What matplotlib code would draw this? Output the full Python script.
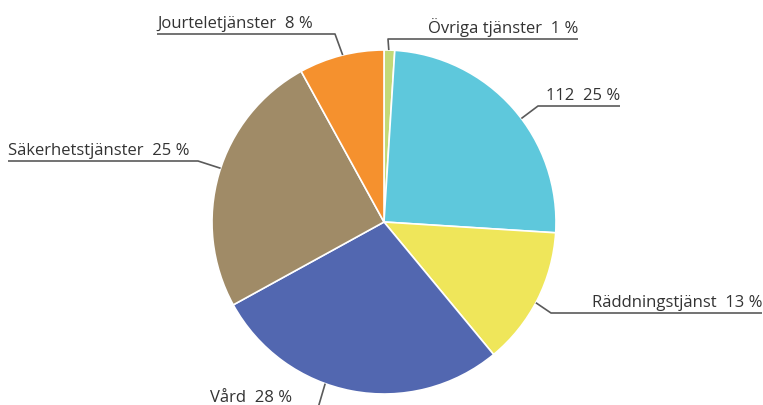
import numpy as np
import matplotlib
matplotlib.use("Agg")
import matplotlib.pyplot as plt

# Share of services (percent), clockwise from 12 o'clock
labels = ["Övriga tjänster", "112", "Räddningstjänst", "Vård",
          "Säkerhetstjänster", "Jourteletjänster"]
values = [1, 25, 13, 28, 25, 8]
colors = ["#c3d977", "#5ec8dc", "#efe65a", "#5267b0", "#a08b67", "#f5912e"]

W, H = 763, 405
cx, cy, r = 384, H - 222, 172

# label layout: (angle of leader on pie edge, elbow x, elbow y, line end x, text align)
layout = {
    "Övriga tjänster":   (88.4, 388, H - 39, 578, "right"),
    "112":               (37.0, 538, H - 106, 620, "right"),
    "Räddningstjänst":   (-28.0, 551, H - 313, 762, "right"),
    "Vård":              (-110.0, 318, H - 408, 210, "left"),
    "Säkerhetstjänster": (161.8, 198, H - 161, 8, "left"),
    "Jourteletjänster":  (103.9, 335, H - 34, 157, "left"),
}

plt.rcParams["font.family"] = ["Open Sans", "DejaVu Sans"]

fig = plt.figure(figsize=(W / 100, H / 100), dpi=100)
ax = fig.add_axes([0, 0, 1, 1])

ax.pie(values, colors=colors, startangle=90, counterclock=False,
       center=(cx, cy), radius=r,
       wedgeprops=dict(edgecolor="white", linewidth=1.2))

ax.set_xlim(0, W)
ax.set_ylim(0, H)
ax.set_aspect("equal")
ax.axis("off")

for lab, val in zip(labels, values):
    ang, ex, ey, lx, ha = layout[lab]
    px = cx + r * np.cos(np.radians(ang))
    py = cy + r * np.sin(np.radians(ang))
    ax.plot([px, ex, lx], [py, ey, ey], color="#5a5a5a", lw=1.2,
            solid_capstyle="butt", clip_on=False)
    ax.text(lx, ey + 2, f"{lab}  {val} %", ha=ha, va="bottom",
            fontsize=12, color="#333333")

fig.savefig("out.png", dpi=100)
